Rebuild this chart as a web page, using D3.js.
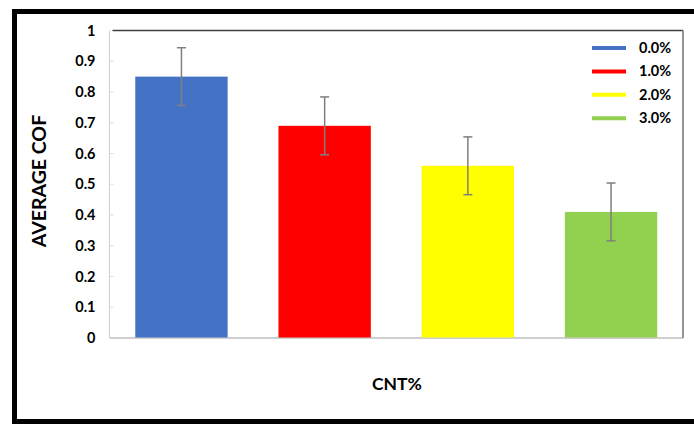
<!DOCTYPE html>
<html>
<head>
<meta charset="utf-8">
<script src="https://cdn.jsdelivr.net/npm/d3@7"></script>
<style>
html,body{margin:0;padding:0;background:#fff;}
svg{display:block;font-family:Lato,"Open Sans",sans-serif;font-weight:700;}
</style>
</head>
<body>
<svg id="chart" width="694" height="424"></svg>
<script>
const categories = ["0.0%", "1.0%", "2.0%", "3.0%"];
const values = [0.85, 0.69, 0.56, 0.41];
const errors = [0.094, 0.094, 0.094, 0.094];
const colors = ["#4472C4", "#FF0000", "#FFFF00", "#92D050"];
const yTicks = [0, 0.1, 0.2, 0.3, 0.4, 0.5, 0.6, 0.7, 0.8, 0.9, 1];
const yTitle = "AVERAGE COF";
const xTitle = "CNT%";

const svg = d3.select("#chart");
const plot = {left: 109.5, right: 683, top: 30.5, bottom: 338};

// outer frame
svg.append("path")
  .attr("d", `M14.5,${430} V11.5 H700`)
  .attr("fill", "none").attr("stroke", "#000").attr("stroke-width", 5);
svg.append("line").attr("x1", 12).attr("x2", 700).attr("y1", 421.5).attr("y2", 421.5)
  .attr("stroke", "#000").attr("stroke-width", 5);

const x = d3.scaleBand().domain(categories).range([plot.left, plot.right]).paddingInner(0.355).paddingOuter(0.18);
const y = d3.scaleLinear().domain([0, 1]).range([plot.bottom, plot.top]);

// plot area border
svg.append("line").attr("x1", plot.left).attr("x2", plot.left).attr("y1", plot.top).attr("y2", plot.bottom)
  .attr("stroke", "#d0d0d0").attr("stroke-width", 1);
svg.append("line").attr("x1", plot.left).attr("x2", plot.right).attr("y1", plot.bottom).attr("y2", plot.bottom)
  .attr("stroke", "#bfbfbf").attr("stroke-width", 1.5);
svg.append("line").attr("x1", plot.left + 3).attr("x2", plot.right).attr("y1", plot.top).attr("y2", plot.top)
  .attr("stroke", "#404040").attr("stroke-width", 1.5);
svg.append("line").attr("x1", plot.right).attr("x2", plot.right).attr("y1", plot.top).attr("y2", plot.bottom)
  .attr("stroke", "#707070").attr("stroke-width", 1.5);

// y axis
const yAxis = d3.axisLeft(y).tickValues(yTicks).tickFormat(d => String(+d.toFixed(1))).tickSize(0).tickPadding(14);
const yg = svg.append("g").attr("transform", `translate(${plot.left},0)`).call(yAxis);
yg.select(".domain").remove();
yg.selectAll("text").attr("font-size", 14.5).attr("font-weight", 700).attr("fill", "#000")
  .attr("font-family", "Lato, 'Open Sans', sans-serif");
// faint minor tick marks inside
svg.append("g").selectAll("line").data(yTicks.slice(1, -1)).join("line")
  .attr("x1", plot.left + 1).attr("x2", plot.left + 4)
  .attr("y1", d => y(d)).attr("y2", d => y(d))
  .attr("stroke", "#d8d8d8").attr("stroke-width", 1);

// bars
svg.append("g").selectAll("rect").data(categories).join("rect")
  .attr("x", d => x(d)).attr("width", x.bandwidth())
  .attr("y", (d, i) => y(values[i])).attr("height", (d, i) => y(0) - y(values[i]) - 0.5)
  .attr("fill", (d, i) => colors[i]);

// error bars
const eg = svg.append("g").attr("stroke", "#7f7f7f").attr("stroke-width", 1.5);
categories.forEach((c, i) => {
  const cx = x(c) + x.bandwidth() / 2;
  const hi = y(values[i] + errors[i]), lo = y(values[i] - errors[i]);
  eg.append("line").attr("x1", cx).attr("x2", cx).attr("y1", hi).attr("y2", lo);
  eg.append("line").attr("x1", cx - 4.5).attr("x2", cx + 4.5).attr("y1", hi).attr("y2", hi);
  eg.append("line").attr("x1", cx - 4.5).attr("x2", cx + 4.5).attr("y1", lo).attr("y2", lo);
});

// legend
const lg = svg.append("g");
categories.forEach((c, i) => {
  const ly = 48 + i * 23.4;
  lg.append("line").attr("x1", 592).attr("x2", 626).attr("y1", ly).attr("y2", ly)
    .attr("stroke", colors[i]).attr("stroke-width", 4);
  lg.append("text").attr("x", 639).attr("y", ly).attr("dy", "0.35em")
    .attr("font-size", 14.5).attr("fill", "#000").text(c);
});

// titles
svg.append("text").attr("transform", "translate(46,181) rotate(-90)")
  .attr("text-anchor", "middle").attr("font-size", 19.5).attr("fill", "#000").text(yTitle);
svg.append("text").attr("x", 397).attr("y", 390)
  .attr("text-anchor", "middle").attr("font-size", 17.5).attr("fill", "#000").text(xTitle);
</script>
</body>
</html>
